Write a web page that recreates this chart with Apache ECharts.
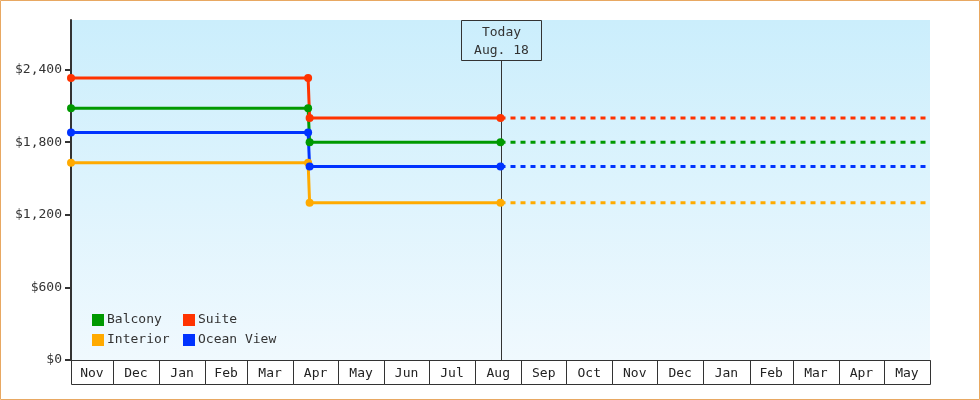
<!DOCTYPE html>
<html>
<head>
<meta charset="utf-8">
<script src="https://cdn.jsdelivr.net/npm/echarts@6/dist/echarts.min.js"></script>
<style>
  html, body { margin: 0; padding: 0; background: #fff; }
  #chart { width: 980px; height: 400px; }
</style>
</head>
<body>
<div id="chart"></div>
<script>
// price history, one value per date
var priceDates = ['2018-11-03', '2019-04-11', '2019-04-12', '2019-08-18'];
var balcony   = [2080, 2080, 1800, 1800];
var suite     = [2330, 2330, 2000, 2000];
var interior  = [1630, 1630, 1300, 1300];
var oceanView = [1880, 1880, 1600, 1600];

var today = '2019-08-18';
var todayLabel = 'Today\nAug. 18';
var axisStart = '2018-11-03';
var axisEnd = '2020-06-01';

// month cells under the plot
var monthStarts = ['2018-11-01','2018-12-01','2019-01-01','2019-02-01','2019-03-01','2019-04-01',
  '2019-05-01','2019-06-01','2019-07-01','2019-08-01','2019-09-01','2019-10-01','2019-11-01',
  '2019-12-01','2020-01-01','2020-02-01','2020-03-01','2020-04-01','2020-05-01','2020-06-01'];
var monthLabels = ['Nov','Dec','Jan','Feb','Mar','Apr','May','Jun','Jul','Aug','Sep','Oct',
  'Nov','Dec','Jan','Feb','Mar','Apr','May'];

var yTicks = [0, 600, 1200, 1800, 2400];
var yMax = 2810;

var font = '"DejaVu Sans Mono", monospace';
var colors = { Balcony: '#009900', Suite: '#ff3300', Interior: '#ffaa00', 'Ocean View': '#0033ff' };

var dom = document.getElementById('chart');
var myChart = echarts.init(dom);
var option = null;

function pairs(values) {
    return priceDates.map(function (d, i) { return [d, values[i]]; });
}

function priceSeries(name, values) {
    return [
        {
            name: name,
            type: 'line',
            data: pairs(values),
            symbol: 'circle',
            symbolSize: 8,
            itemStyle: { color: colors[name] },
            lineStyle: { width: 3, color: colors[name] },
            z: 3
        },
        {
            name: name,
            type: 'line',
            data: [[today, values[values.length - 1]], [axisEnd, values[values.length - 1]]],
            showSymbol: false,
            symbol: 'none',
            itemStyle: { color: colors[name] },
            lineStyle: { width: 3, type: [5, 5], color: colors[name] },
            z: 3
        }
    ];
}

var monthData = [];
for (var i = 0; i < monthLabels.length; i++) {
    monthData.push([monthStarts[i], monthStarts[i + 1], 0]);
}

var legendCommon = {
    orient: 'vertical',
    top: 313,
    padding: 0,
    itemGap: 6,
    itemWidth: 12,
    itemHeight: 12,
    icon: 'rect',
    textStyle: { fontFamily: font, fontSize: 13, color: '#333', lineHeight: 14, padding: [0, 0, 0, -2] }
};

option = {
    animation: false,
    grid: {
        left: 71,
        right: 50,
        top: 20,
        bottom: 40,
        show: true,
        borderWidth: 0,
        backgroundColor: {
            type: 'linear', x: 0, y: 0, x2: 0, y2: 1,
            colorStops: [{ offset: 0, color: '#cbeefc' }, { offset: 1, color: '#f0f9fe' }]
        }
    },
    legend: [
        Object.assign({ left: 92, data: ['Balcony', 'Interior'] }, legendCommon),
        Object.assign({ left: 183, data: ['Suite', 'Ocean View'] }, legendCommon)
    ],
    graphic: [{
        type: 'rect',
        shape: { x: 0.5, y: 0.5, width: 979, height: 399 },
        style: { fill: null, stroke: '#e8a862', lineWidth: 1 },
        silent: true
    }],
    xAxis: {
        type: 'time',
        min: axisStart,
        max: axisEnd,
        axisLine: { show: true, lineStyle: { color: '#333', width: 1 } },
        axisTick: { show: false },
        axisLabel: { show: false },
        splitLine: { show: false }
    },
    yAxis: {
        type: 'value',
        min: 0,
        max: yMax,
        axisLine: { show: true, lineStyle: { color: '#333', width: 2 } },
        axisTick: { show: true, length: 6, lineStyle: { color: '#333', width: 2 }, customValues: yTicks },
        axisLabel: {
            customValues: yTicks,
            margin: 9,
            color: '#333',
            fontFamily: font,
            fontSize: 13,
            formatter: function (v) { return '$' + v.toLocaleString('en-US'); }
        },
        splitLine: { show: false }
    },
    series: [].concat(
        priceSeries('Balcony', balcony),
        priceSeries('Suite', suite),
        priceSeries('Interior', interior),
        priceSeries('Ocean View', oceanView),
        [
            {
                // today marker: line plus label box
                type: 'custom',
                data: [[today, 0]],
                z: 1,
                silent: true,
                renderItem: function (params, api) {
                    var p = api.coord([api.value(0), 0]);
                    var top = params.coordSys.y;
                    var x = Math.round(p[0]) + 0.5;
                    return {
                        type: 'group',
                        children: [
                            { type: 'line', shape: { x1: x, y1: top + 40, x2: x, y2: p[1] },
                              style: { stroke: '#333', lineWidth: 1 } },
                            { type: 'rect', shape: { x: x - 40, y: top + 0.5, width: 80, height: 40 },
                              style: { fill: null, stroke: '#333', lineWidth: 1 } },
                            { type: 'text', x: x, y: top + 22,
                              style: { text: todayLabel, align: 'center', verticalAlign: 'middle',
                                       font: '13px ' + font, fill: '#333', lineHeight: 18 } }
                        ]
                    };
                }
            },
            {
                // month cells along the bottom
                type: 'custom',
                data: monthData,
                encode: { x: [0, 1], y: 2 },
                silent: true,
                clip: false,
                renderItem: function (params, api) {
                    var cs = params.coordSys;
                    var a = api.coord([api.value(0), 0]);
                    var b = api.coord([api.value(1), 0]);
                    var x0 = Math.max(a[0], cs.x);
                    var x1 = Math.min(b[0], cs.x + cs.width);
                    var y0 = Math.round(a[1]) + 0.5;
                    return {
                        type: 'group',
                        children: [
                            { type: 'rect', shape: { x: Math.round(x0) + 0.5, y: y0, width: Math.round(x1) - Math.round(x0), height: 24 },
                              style: { fill: null, stroke: '#333', lineWidth: 1 } },
                            { type: 'text', x: (x0 + x1) / 2, y: y0 + 13,
                              style: { text: monthLabels[params.dataIndex], align: 'center', verticalAlign: 'middle',
                                       font: '13px ' + font, fill: '#222' } }
                        ]
                    };
                }
            }
        ]
    )
};

if (option && typeof option === "object") {
    myChart.setOption(option, true);
}
</script>
</body>
</html>
